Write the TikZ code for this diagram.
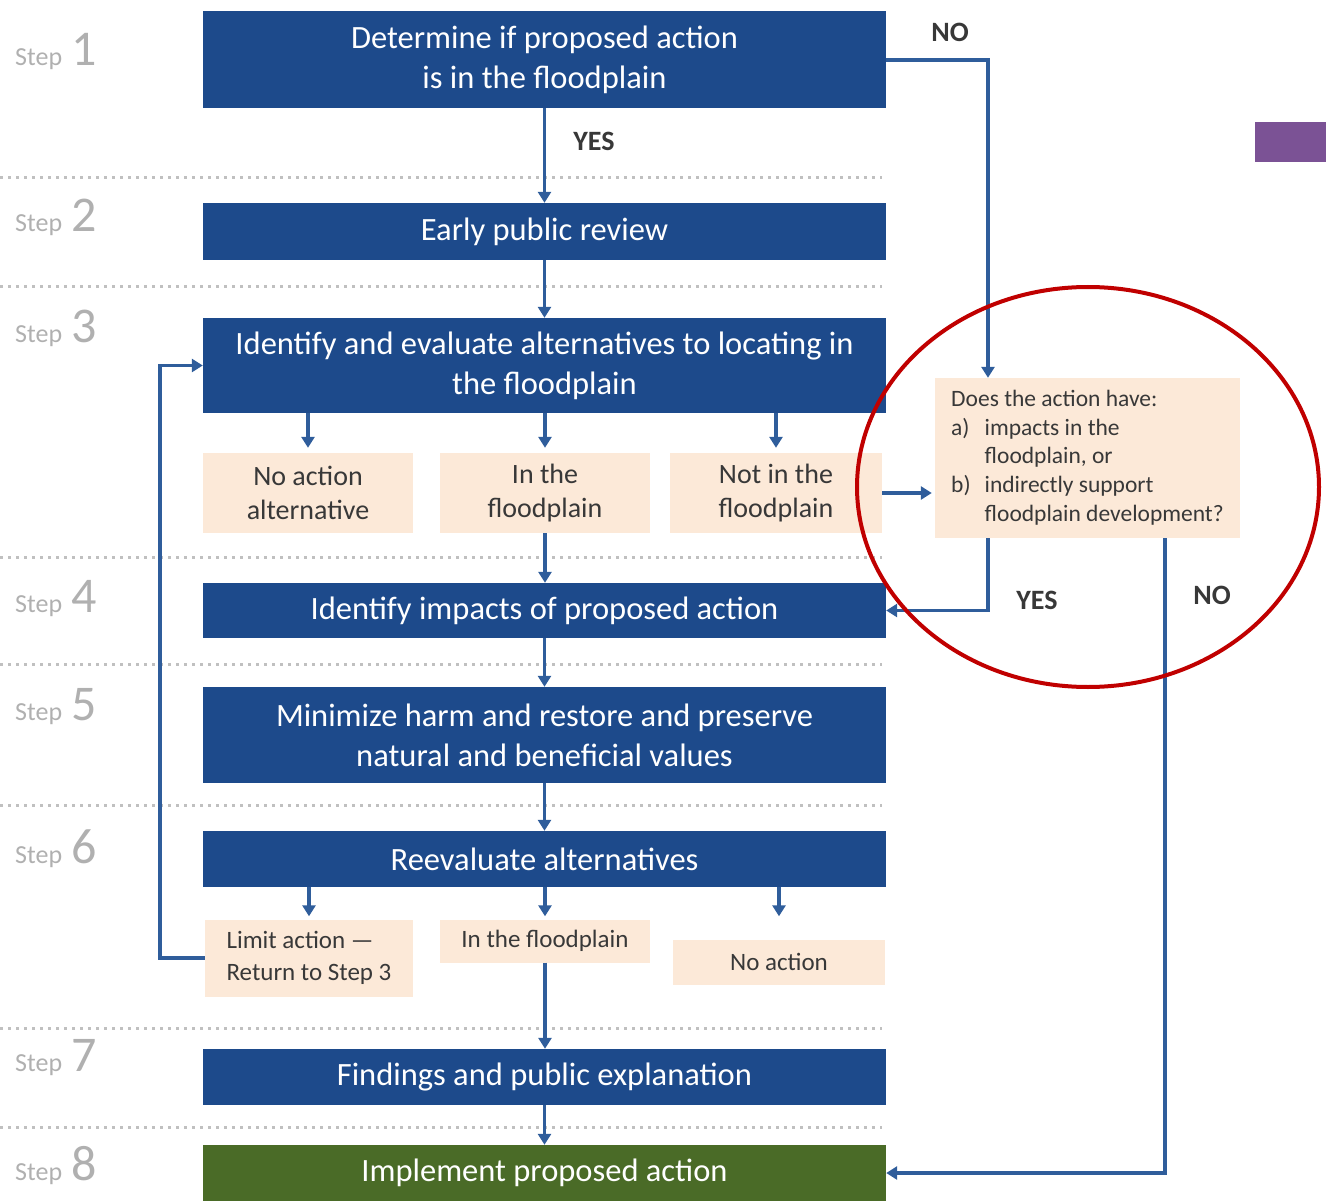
\documentclass[tikz,border=0pt]{standalone}
\usepackage{fontspec}
\setmainfont{Carlito}
\usetikzlibrary{arrows.meta}
\definecolor{fpBlue}{HTML}{1D4A8B}
\definecolor{fpLine}{HTML}{2F5D9B}
\definecolor{fpPeach}{HTML}{FCE9D8}
\definecolor{fpGreen}{HTML}{4A6B27}
\definecolor{fpRed}{HTML}{C00000}
\definecolor{fpPurple}{HTML}{7B5295}
\definecolor{fpGray}{HTML}{B0B0B0}
\definecolor{fpText}{HTML}{383838}

\begin{document}
\begin{tikzpicture}[x=1pt,y=-1pt]
    \tikzstyle{stepbox}=[fill=fpBlue, draw=none, minimum width=683pt, inner sep=0pt,
      text=white, align=center, font=\fontsize{32.5}{40}\selectfont]
    \tikzstyle{altbox}=[fill=fpPeach, draw=none, minimum width=210pt, inner sep=0pt,
      text=fpText, align=center, font=\fontsize{28}{34}\selectfont]
    \tikzstyle{flow}=[-{Triangle[length=11pt,width=13pt]}, line width=3.2pt, draw=fpLine]
    \tikzstyle{answer}=[text=fpText, font=\fontsize{28}{30}\selectfont\bfseries]
    \tikzstyle{divider}=[fpGray!80, line width=3pt, dash pattern=on 3pt off 5pt]

    \useasboundingbox (0,0) rectangle (1326,1201);

    % step numbers and dotted separators
    \foreach \n/\y in {1/66, 2/232, 3/342, 4/612, 5/720, 6/863, 7/1071, 8/1180}
      \node[anchor=base west, text=fpGray, inner sep=0pt] (lbl\n) at (15,\y)
        {{\fontsize{26}{30}\selectfont Step}\hspace{9pt}{\fontsize{50}{50}\selectfont\n}};
    \foreach \y in {178, 287, 557, 664, 805, 1028, 1127}
      \draw[divider] (0,\y) -- (882,\y);

    \node[stepbox, minimum height=97pt] (s1) at (544.5,59.5) {Determine if proposed action\\is in the floodplain};
    \node[stepbox, minimum height=57pt] (s2) at (544.5,231.5) {Early public review};
    \node[stepbox, minimum height=95pt] (s3) at (544.5,365.5) {Identify and evaluate alternatives to locating in\\the floodplain};
    \node[stepbox, minimum height=55pt] (s4) at (544.5,610.5) {Identify impacts of proposed action};
    \node[stepbox, minimum height=96pt] (s5) at (544.5,735) {Minimize harm and restore and preserve\\natural and beneficial values};
    \node[stepbox, minimum height=56pt] (s6) at (544.5,859) {Reevaluate alternatives};
    \node[stepbox, minimum height=56pt] (s7) at (544.5,1077) {Findings and public explanation};
    \node[stepbox, minimum height=56pt, fill=fpGreen] (s8) at (544.5,1173) {Implement proposed action};

    \node[altbox, minimum height=80pt] (a1) at (308,493) {No action\\alternative};
    \node[altbox, minimum height=80pt] (a2) at (545,493) {In the\\floodplain};
    \node[altbox, minimum height=80pt, minimum width=212pt] (a3) at (776,493) {Not in the\\floodplain};

    \node[altbox, minimum height=77pt, minimum width=208pt, align=left,
      font=\fontsize{25}{32}\selectfont] (lim) at (309,958) {Limit action ---\\Return to Step 3};
    \node[altbox, minimum height=43pt, font=\fontsize{25}{32}\selectfont] (fp) at (545,941) {In the floodplain};
    \node[altbox, minimum height=45pt, minimum width=212pt, font=\fontsize{25}{32}\selectfont] (noact) at (779,962) {No action};

    \node[altbox, minimum width=305pt, minimum height=160pt, align=left,
      font=\fontsize{23.5}{28.7}\selectfont] (q) at (1087.5,458)
      {\begin{tabular}{@{}l@{\hspace{14pt}}l@{}}
        \multicolumn{2}{@{}l}{Does the action have:}\\
        a) & impacts in the\\
           & floodplain, or\\
        b) & indirectly support\\
           & floodplain development?
      \end{tabular}};

    \coordinate (qa) at (988,0);
    \coordinate (qb) at (1165,0);
    \coordinate (back) at (160,0);

    % main column
    \draw[flow] (s1) -- (s2);
    \draw[flow] (s2) -- (s3);
    \draw[flow] (a2.south) -- (a2.south |- s4.north);
    \draw[flow] (s4) -- (s5);
    \draw[flow] (s5) -- (s6);
    \draw[flow] (fp.south) -- (fp.south |- s7.north);
    \draw[flow] (s7) -- (s8);

    % branches
    \foreach \b in {a1, a2, a3}
      \draw[flow, shorten >=5pt] (\b.north |- s3.south) -- (\b.north);
    \draw[flow, shorten >=3pt] (lim.north |- s6.south) -- (lim.north);
    \draw[flow, shorten >=3pt] (fp.north |- s6.south) -- (fp.north);
    \draw[flow, shorten >=23pt] (noact.north |- s6.south) -- (noact.north);

    % right-hand test
    \draw[flow] (s1.east |- 0,60) -| (qa |- q.north);
    \draw[flow, shorten >=3pt] (a3.east) -- (a3.east -| q.west);
    \draw[flow] (qa |- q.south) |- (s4.east);
    \draw[flow] (qb |- q.south) |- (s8.east);
    \draw[flow] (lim.west) -- (lim.west -| back) |- (s3.west);

    \node[answer] (yes1) at (594,141) {YES};
    \node[answer] (no1) at (950,32) {NO};
    \node[answer] (yes2) at (1037,600) {YES};
    \node[answer] (no2) at (1212,595) {NO};

    \draw[fpRed, line width=4pt] (1088,487) ellipse [x radius=231, y radius=200];
    \fill[fpPurple] (1255,122) rectangle (1326,162);
\end{tikzpicture}
\end{document}
